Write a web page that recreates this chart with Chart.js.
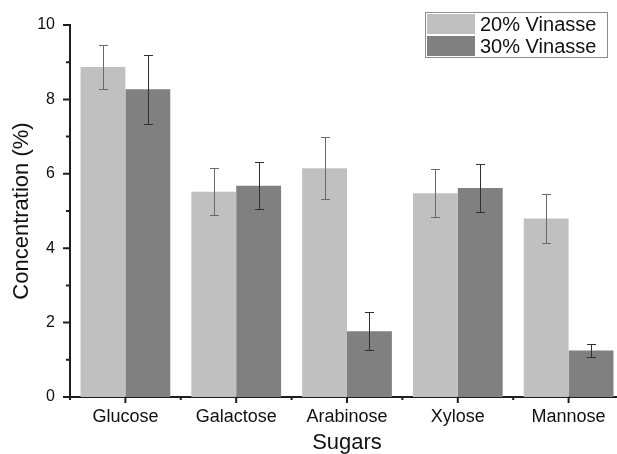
<!DOCTYPE html>
<html>
<head>
<meta charset="utf-8">
<script src="https://cdn.jsdelivr.net/npm/chart.js@4.4.1/dist/chart.umd.min.js"></script>
<style>
  html, body { margin: 0; padding: 0; background: #fff; overflow: hidden; width: 617px; height: 454px; }
  canvas { display: block; }
</style>
</head>
<body>
<canvas id="chart" width="624" height="454"></canvas>
<script>
// Sugar concentrations (%) with standard deviations
const sugars = ['Glucose', 'Galactose', 'Arabinose', 'Xylose', 'Mannose'];
const vinasse20 = [8.87, 5.52, 6.15, 5.48, 4.80];
const vinasse20Err = [0.58, 0.63, 0.84, 0.65, 0.65];
const vinasse30 = [8.27, 5.68, 1.77, 5.62, 1.25];
const vinasse30Err = [0.93, 0.63, 0.51, 0.64, 0.18];
const seriesNames = ['20% Vinasse', '30% Vinasse'];

const FONT = '"Liberation Sans", Arial, Helvetica, sans-serif';
const AXIS = '#1e1e1e';

// Vertical error bars with caps, placed on each bar via the y scale
const errorBars = {
  id: 'errorBars',
  afterDatasetsDraw(chart) {
    const ctx = chart.ctx;
    const y = chart.scales.y;
    chart.data.datasets.forEach((ds, i) => {
      const meta = chart.getDatasetMeta(i);
      ctx.save();
      ctx.strokeStyle = ds.errorColor;
      ctx.lineWidth = 1;
      meta.data.forEach((bar, j) => {
        const v = ds.data[j], e = ds.errors[j];
        const top = Math.round(y.getPixelForValue(v + e)) + 0.5;
        const bot = Math.round(y.getPixelForValue(v - e)) + 0.5;
        const x = Math.round(bar.x) + 0.5;
        ctx.beginPath();
        ctx.moveTo(x, top); ctx.lineTo(x, bot);
        ctx.moveTo(x - 4.5, top); ctx.lineTo(x + 4.5, top);
        ctx.moveTo(x - 4.5, bot); ctx.lineTo(x + 4.5, bot);
        ctx.stroke();
      });
      ctx.restore();
    });
  }
};

// Outward tick marks: major and minor on both axes
const tickMarks = {
  id: 'tickMarks',
  afterDraw(chart) {
    const { ctx, scales: { x, y } } = chart;
    const seg = (x1, y1, x2, y2) => { ctx.moveTo(x1, y1); ctx.lineTo(x2, y2); };
    ctx.save();
    ctx.strokeStyle = AXIS;
    ctx.lineWidth = 2;
    ctx.beginPath();
    const left = x.left;
    y.ticks.forEach((t, i) => {
      const py = y.getPixelForValue(t.value);
      seg(left - 7, py, left, py);
      if (i < y.ticks.length - 1) {
        const pm = y.getPixelForValue((t.value + y.ticks[i + 1].value) / 2);
        seg(left - 4, pm, left, pm);
      }
    });
    const base = y.bottom;
    x.ticks.forEach((t, i) => {
      const px = x.getPixelForTick(i);
      seg(px, base, px, base + 6);
    });
    for (let i = 0; i <= sugars.length; i++) {
      const pb = x.getPixelForValue(i - 0.5);
      seg(pb, base, pb, base + 3);
    }
    ctx.stroke();
    ctx.restore();
  }
};

// Boxed legend in the upper right corner
const boxLegend = {
  id: 'boxLegend',
  afterDraw(chart) {
    const ctx = chart.ctx;
    const bx = 425, by = 12, bw = 182, bh = 45;
    ctx.save();
    ctx.strokeStyle = '#8c8c8c';
    ctx.lineWidth = 1;
    ctx.strokeRect(bx + 0.5, by + 0.5, bw, bh);
    ctx.font = '20px ' + FONT;
    ctx.textBaseline = 'middle';
    chart.data.datasets.forEach((ds, i) => {
      const ry = by + 2 + i * 22;
      ctx.fillStyle = ds.backgroundColor;
      ctx.fillRect(bx + 2, ry, 48, 20);
      ctx.fillStyle = '#111';
      ctx.fillText(ds.label, bx + 55, ry + 11);
    });
    ctx.restore();
  }
};

new Chart(document.getElementById('chart'), {
  type: 'bar',
  data: {
    labels: sugars,
    datasets: [
      { label: seriesNames[0], data: vinasse20, errors: vinasse20Err,
        backgroundColor: '#c0c0c0', errorColor: '#6a6a6a', borderWidth: 0 },
      { label: seriesNames[1], data: vinasse30, errors: vinasse30Err,
        backgroundColor: '#808080', errorColor: '#303030', borderWidth: 0 }
    ]
  },
  options: {
    responsive: false,
    animation: false,
    events: [],
    layout: { padding: { top: 25, right: 0, bottom: 0, left: 0 } },
    datasets: { bar: { categoryPercentage: 0.81, barPercentage: 1.0 } },
    plugins: { legend: { display: false }, tooltip: { enabled: false } },
    scales: {
      x: {
        grid: { display: false, drawTicks: false },
        border: { display: true, color: AXIS, width: 2 },
        ticks: { color: '#111', font: { family: FONT, size: 18 }, padding: 9, maxRotation: 0 },
        title: { display: true, text: 'Sugars', color: '#111',
                 font: { family: FONT, size: 22, lineHeight: 1.0 }, padding: { top: 0, bottom: 0 } },
        afterFit(scale) { scale.height = 57; }
      },
      y: {
        min: 0, max: 10,
        grid: { display: false, drawTicks: false },
        border: { display: true, color: AXIS, width: 2 },
        ticks: { stepSize: 2, color: '#111', font: { family: FONT, size: 16 }, padding: 15 },
        title: { display: true, text: 'Concentration (%)', color: '#111',
                 font: { family: FONT, size: 22, lineHeight: 1.2 }, padding: { top: 9, bottom: 0 } },
        afterFit(scale) { scale.width = 70; }
      }
    }
  },
  plugins: [errorBars, tickMarks, boxLegend]
});
</script>
</body>
</html>
